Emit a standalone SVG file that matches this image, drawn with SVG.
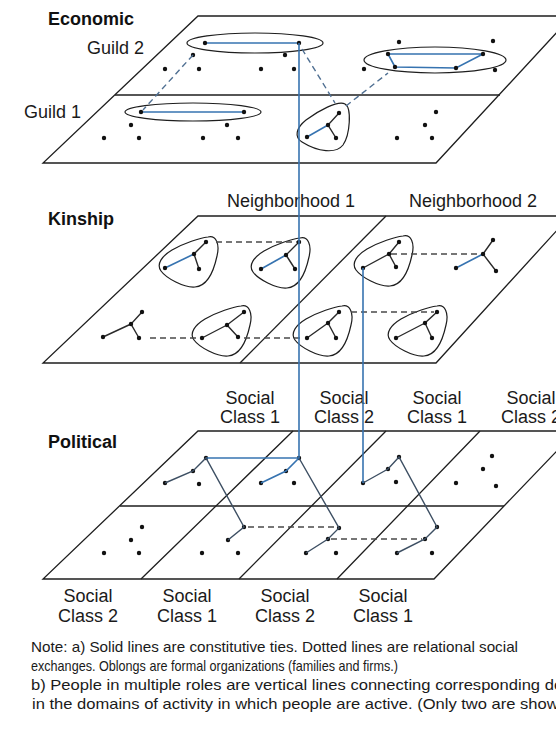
<svg xmlns="http://www.w3.org/2000/svg" width="556" height="740" viewBox="0 0 556 740">
<style>
.pl{fill:none;stroke:#1e1e1e;stroke-width:1.3}
.ov{fill:none;stroke:#1e1e1e;stroke-width:1.2}
.k{fill:none;stroke:#2a2a2a;stroke-width:1.4}
.kp{fill:none;stroke:#3d4f63;stroke-width:1.4}
.b{fill:none;stroke:#3673b0;stroke-width:1.6}
.dsh{fill:none;stroke:#4a4a4a;stroke-width:1.3;stroke-dasharray:6 4}
.dshb{fill:none;stroke:#4f6f92;stroke-width:1.4;stroke-dasharray:6 4}
.n{fill:#111}
.lb{font-family:"Liberation Sans",Arial,sans-serif;font-size:18px;fill:#1a1a1a}
.hd{font-family:"Liberation Sans",Arial,sans-serif;font-size:18px;font-weight:bold;fill:#111}
.lc{text-anchor:middle}
.nt{font-family:"Liberation Sans",Arial,sans-serif;font-size:15px;fill:#1a1a1a}
</style>
<defs>
<path id="obl" d="M14,-17 C22,-19 26,-10 23,2 C20,16 14,32 1,33 C-10,34 -28,24 -33,17 C-38,10 -32,2 -22,-4 C-10,-11 6,-16 14,-17 Z"/>
<circle id="d" r="2.2"/>
</defs>
<rect width="556" height="740" fill="#ffffff"/>

<!-- Planes -->
<g id="plane-economic">
<path class="pl" d="M198,16 H572 L436,163 H43 Z"/>
<path class="pl" d="M115,95 H500"/>
<text class="hd" x="48" y="25">Economic</text>
<text class="lb" x="87" y="54">Guild 2</text>
<text class="lb" x="24" y="118">Guild 1</text>
</g>
<g id="plane-kinship">
<path class="pl" d="M198,216 H570 L436,363 H43 Z"/>
<path class="pl" d="M240,363 L386,216"/>
<text class="hd" x="48" y="225">Kinship</text>
<text class="lb" x="227" y="207">Neighborhood 1</text>
<text class="lb" x="409" y="207">Neighborhood 2</text>
</g>
<g id="plane-political">
<path class="pl" d="M198,431 H576 L434,579 H43 Z"/>
<path class="pl" d="M120,506 H504"/>
<path class="pl" d="M141,579 L293,431 M239,579 L386,431 M337,579 L480,431"/>
<text class="hd" x="48" y="448">Political</text>
<g class="lb lc">
<text x="250" y="404">Social</text><text x="250" y="423">Class 1</text>
<text x="344" y="404">Social</text><text x="344" y="423">Class 2</text>
<text x="437" y="404">Social</text><text x="437" y="423">Class 1</text>
<text x="531" y="404">Social</text><text x="531" y="423">Class 2</text>
<text x="88" y="602">Social</text><text x="88" y="622">Class 2</text>
<text x="187" y="602">Social</text><text x="187" y="622">Class 1</text>
<text x="285" y="602">Social</text><text x="285" y="622">Class 2</text>
<text x="383" y="602">Social</text><text x="383" y="622">Class 1</text>
</g>
</g>

<!-- Economic organizations -->
<g id="guild2">
<ellipse class="ov" cx="255" cy="43" rx="68" ry="10"/>
<path class="b" d="M205,43 H299"/>
<use href="#d" class="n" x="205" y="43"/><use href="#d" class="n" x="299" y="43"/>
</g>
<g id="guild1">
<ellipse class="ov" cx="193" cy="112" rx="68" ry="9"/>
<path class="b" d="M141,112 H244"/>
<use href="#d" class="n" x="141" y="112"/><use href="#d" class="n" x="244" y="112"/>
</g>
<g id="firm-right">
<ellipse class="ov" cx="435" cy="60" rx="71" ry="13"/>
<path class="b" d="M388,54 L483,54 L456,68 L395,67 Z"/>
<use href="#d" class="n" x="388" y="54"/><use href="#d" class="n" x="483" y="54"/>
<use href="#d" class="n" x="456" y="68"/><use href="#d" class="n" x="395" y="67"/>
</g>
<g id="firm-tri">
<path class="ov" d="M345,104 C352,108 350,135 343,145 C336,154 318,152 302,142 C294,137 296,128 306,120 C318,111 338,100 345,104 Z"/>
<path class="k" d="M339,113 L328,125 L336,138"/>
<path class="b" d="M328,125 L307,137"/>
<use href="#d" class="n" x="339" y="113"/><use href="#d" class="n" x="328" y="125"/>
<use href="#d" class="n" x="307" y="137"/><use href="#d" class="n" x="336" y="138"/>
</g>
<g id="econ-dots" class="n">
<use href="#d" x="193" y="55"/><use href="#d" x="285" y="55"/>
<use href="#d" x="165" y="69"/><use href="#d" x="199" y="69"/><use href="#d" x="261" y="69"/><use href="#d" x="294" y="69"/>
<use href="#d" x="131" y="125"/><use href="#d" x="227" y="125"/>
<use href="#d" x="104" y="138"/><use href="#d" x="139" y="138"/><use href="#d" x="203" y="138"/><use href="#d" x="238" y="138"/>
<use href="#d" x="399" y="42"/><use href="#d" x="493" y="41"/><use href="#d" x="495" y="70"/><use href="#d" x="364" y="69"/>
<use href="#d" x="436" y="112"/><use href="#d" x="425" y="125"/><use href="#d" x="397" y="138"/><use href="#d" x="432" y="138"/>
</g>

<!-- Kinship families -->
<g id="famA">
<use href="#obl" class="ov" x="194" y="254"/>
<path class="k" d="M206,242 L194,254 L199,269"/>
<path class="b" d="M194,254 L165,268"/>
<use href="#d" class="n" x="206" y="242"/><use href="#d" class="n" x="194" y="254"/><use href="#d" class="n" x="165" y="268"/><use href="#d" class="n" x="199" y="269"/>
</g>
<g id="famB">
<use href="#obl" class="ov" x="286" y="255"/>
<path class="k" d="M299,242 L286,255 L295,269"/>
<path class="b" d="M286,255 L261,269"/>
<use href="#d" class="n" x="299" y="242"/><use href="#d" class="n" x="286" y="255"/><use href="#d" class="n" x="261" y="269"/><use href="#d" class="n" x="295" y="269"/>
</g>
<g id="famC">
<use href="#obl" class="ov" x="227" y="323"/>
<path class="k" d="M244,312 L227,325 L238,337 M227,325 L202,338"/>
<use href="#d" class="n" x="244" y="312"/><use href="#d" class="n" x="227" y="325"/><use href="#d" class="n" x="202" y="338"/><use href="#d" class="n" x="238" y="337"/>
</g>
<g id="famD">
<use href="#obl" class="ov" x="328" y="323"/>
<path class="k" d="M339,312 L328,323 L336,338 M328,323 L307,338"/>
<use href="#d" class="n" x="339" y="312"/><use href="#d" class="n" x="328" y="323"/><use href="#d" class="n" x="307" y="338"/><use href="#d" class="n" x="336" y="338"/>
</g>
<g id="famE">
<use href="#obl" class="ov" x="423" y="323"/>
<path class="k" d="M437,312 L425,323 L432,338 M425,323 L396,338"/>
<use href="#d" class="n" x="437" y="312"/><use href="#d" class="n" x="425" y="323"/><use href="#d" class="n" x="396" y="338"/><use href="#d" class="n" x="432" y="338"/>
</g>
<g id="famF">
<use href="#obl" class="ov" x="389" y="253"/>
<path class="k" d="M399,242 L389,254 L396,267 M389,254 L363,268"/>
<use href="#d" class="n" x="399" y="242"/><use href="#d" class="n" x="389" y="254"/><use href="#d" class="n" x="363" y="268"/><use href="#d" class="n" x="396" y="267"/>
</g>
<g id="treeG">
<path class="k" d="M493,240 L483,254 L496,271"/>
<path class="b" d="M483,254 L456,268"/>
<use href="#d" class="n" x="493" y="240"/><use href="#d" class="n" x="483" y="254"/><use href="#d" class="n" x="456" y="268"/><use href="#d" class="n" x="496" y="271"/>
</g>
<g id="treeH">
<path class="k" d="M142,312 L131,324 L139,338 M131,324 L103,337"/>
<use href="#d" class="n" x="142" y="312"/><use href="#d" class="n" x="131" y="324"/><use href="#d" class="n" x="103" y="337"/><use href="#d" class="n" x="139" y="338"/>
</g>

<!-- Political -->
<g id="pol-nodes" class="n">
<use href="#d" x="206" y="458"/><use href="#d" x="299" y="458"/>
<use href="#d" x="193" y="471"/><use href="#d" x="165" y="483"/><use href="#d" x="199" y="484"/>
<use href="#d" x="286" y="471"/><use href="#d" x="261" y="483"/><use href="#d" x="294" y="483"/>
<use href="#d" x="244" y="527"/><use href="#d" x="339" y="528"/>
<use href="#d" x="228" y="540"/><use href="#d" x="328" y="539"/><use href="#d" x="306" y="553"/>
<use href="#d" x="142" y="527"/><use href="#d" x="131" y="540"/><use href="#d" x="104" y="553"/><use href="#d" x="139" y="553"/>
<use href="#d" x="202" y="553"/><use href="#d" x="238" y="553"/><use href="#d" x="336" y="553"/>
<use href="#d" x="363" y="483"/><use href="#d" x="388" y="469"/><use href="#d" x="399" y="457"/><use href="#d" x="396" y="482"/>
<use href="#d" x="437" y="527"/><use href="#d" x="425" y="539"/><use href="#d" x="397" y="553"/><use href="#d" x="432" y="553"/>
<use href="#d" x="492" y="456"/><use href="#d" x="483" y="469"/><use href="#d" x="456" y="483"/><use href="#d" x="496" y="486"/>
</g>

<!-- Connectors -->
<g id="connectors">
<path class="dshb" d="M193,55 L143,110"/>
<path class="dshb" d="M302,49 L335,103"/>
<path class="dshb" d="M346,106 L388,73"/>
<path class="dsh" d="M216,242 H297"/>
<path class="dsh" d="M150,338 H200"/>
<path class="dsh" d="M244,338 H300"/>
<path class="dsh" d="M351,312 H434"/>
<path class="dsh" d="M391,254 H481"/>
<path class="b" d="M206,458 H299"/>
<path class="b" d="M261,483 L286,471 L299,458"/>
<path class="kp" d="M165,483 L193,471 L206,458 L244,527 L228,540"/>
<path class="kp" d="M299,458 L339,528 L328,539 L306,553"/>
<path class="kp" d="M363,483 L388,469 L399,457 L437,527 L425,539 L397,553"/>
<path class="dsh" d="M248,527 H336"/>
<path class="dsh" d="M331,539 H422"/>
<path class="b" d="M299,43 V458"/>
<path class="b" d="M363,268 V483"/>
</g>

<!-- Note -->
<g id="note" class="nt">
<text x="31" y="652" textLength="487" lengthAdjust="spacingAndGlyphs">Note: a) Solid lines are constitutive ties. Dotted lines are relational social</text>
<text x="31" y="671" textLength="367" lengthAdjust="spacingAndGlyphs">exchanges. Oblongs are formal organizations (families and firms.)</text>
<text x="31" y="690" textLength="545" lengthAdjust="spacingAndGlyphs">b) People in multiple roles are vertical lines connecting corresponding dots</text>
<text x="32" y="709" textLength="546" lengthAdjust="spacingAndGlyphs">in the domains of activity in which people are active. (Only two are shown.)</text>
</g>
</svg>
